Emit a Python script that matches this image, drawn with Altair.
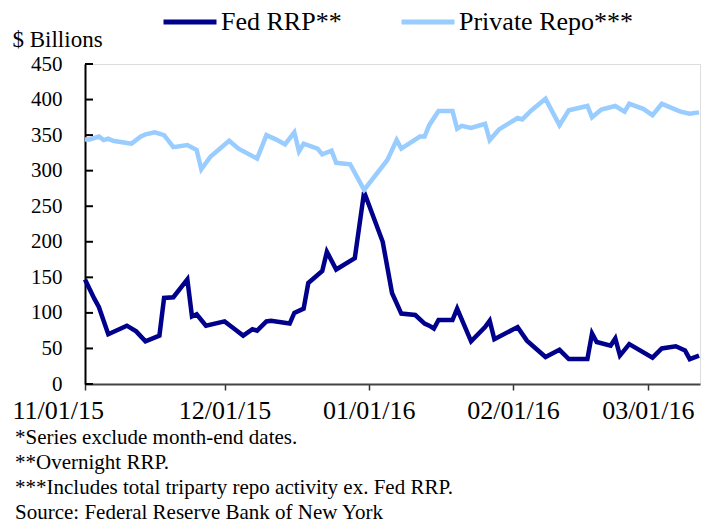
import altair as alt
import pandas as pd

series_names = ["Fed RRP**", "Private Repo***"]
series_colors = ["#00008c", "#99ccff"]

fed_dates = ["2015-11-01", "2015-11-03", "2015-11-04", "2015-11-06", "2015-11-10", "2015-11-12",
             "2015-11-14", "2015-11-17", "2015-11-18", "2015-11-20", "2015-11-23", "2015-11-24",
             "2015-11-25", "2015-11-27", "2015-12-01", "2015-12-03", "2015-12-05", "2015-12-07",
             "2015-12-08", "2015-12-10", "2015-12-11", "2015-12-15", "2015-12-16", "2015-12-18",
             "2015-12-19", "2015-12-22", "2015-12-23", "2015-12-25", "2015-12-29", "2015-12-31",
             "2016-01-04", "2016-01-06", "2016-01-08", "2016-01-11", "2016-01-13", "2016-01-14",
             "2016-01-15", "2016-01-16", "2016-01-19", "2016-01-20", "2016-01-23", "2016-01-26",
             "2016-01-27", "2016-01-28", "2016-02-02", "2016-02-04", "2016-02-08", "2016-02-11",
             "2016-02-13", "2016-02-17", "2016-02-18", "2016-02-19", "2016-02-22", "2016-02-23",
             "2016-02-24", "2016-02-26", "2016-03-02", "2016-03-04", "2016-03-07", "2016-03-09",
             "2016-03-10", "2016-03-12"]
fed_values = [147, 120, 108, 70, 82, 74,
              60, 68, 121, 122, 147, 95,
              98, 82, 88, 78, 68, 77,
              75, 88, 89, 85, 100, 106,
              142, 159, 186, 161, 177, 270,
              200, 128, 99, 97, 85, 82,
              78, 90, 90, 106, 60, 80,
              89, 63, 80, 61, 38, 48,
              35, 35, 71, 59, 54, 64,
              40, 56, 37, 50, 53, 47,
              35, 40]

private_dates = ["2015-11-01", "2015-11-02", "2015-11-04", "2015-11-05", "2015-11-06", "2015-11-07",
                 "2015-11-09", "2015-11-11", "2015-11-13", "2015-11-14", "2015-11-16", "2015-11-18",
                 "2015-11-20", "2015-11-23", "2015-11-25", "2015-11-26", "2015-11-28", "2015-12-02",
                 "2015-12-04", "2015-12-08", "2015-12-10", "2015-12-12", "2015-12-14", "2015-12-16",
                 "2015-12-17", "2015-12-18", "2015-12-21", "2015-12-22", "2015-12-24", "2015-12-25",
                 "2015-12-28", "2015-12-31", "2016-01-05", "2016-01-07", "2016-01-08", "2016-01-12",
                 "2016-01-13", "2016-01-14", "2016-01-16", "2016-01-19", "2016-01-20", "2016-01-21",
                 "2016-01-23", "2016-01-26", "2016-01-27", "2016-01-29", "2016-02-02", "2016-02-03",
                 "2016-02-05", "2016-02-08", "2016-02-11", "2016-02-13", "2016-02-17", "2016-02-18",
                 "2016-02-20", "2016-02-23", "2016-02-25", "2016-02-26", "2016-02-29", "2016-03-02",
                 "2016-03-04", "2016-03-08", "2016-03-10", "2016-03-12"]
private_values = [344, 344, 348, 343, 345, 342,
                  340, 338, 348, 351, 354, 350,
                  333, 336, 329, 302, 320, 342,
                  331, 317, 350, 344, 337, 354,
                  327, 338, 331, 323, 328, 311,
                  309, 273, 315, 343, 331, 348,
                  348, 364, 384, 384, 359, 363,
                  360, 366, 343, 358, 374, 372,
                  385, 401, 364, 385, 391, 375,
                  386, 391, 383, 394, 387, 378,
                  394, 383, 380, 382]

y_ticks = [0, 50, 100, 150, 200, 250, 300, 350, 400, 450]
x_ticks = ["2015-11-01", "2015-12-01", "2016-01-01", "2016-02-01", "2016-03-01"]
y_title = "$ Billions"
footnotes = ["*Series exclude month-end dates.",
             "**Overnight RRP.",
             "***Includes total triparty repo activity ex. Fed RRP.",
             "Source: Federal Reserve Bank of New York"]

FONT = "Liberation Serif"

df = pd.concat([
    pd.DataFrame({"date": pd.to_datetime(fed_dates), "value": fed_values, "series": series_names[0]}),
    pd.DataFrame({"date": pd.to_datetime(private_dates), "value": private_values, "series": series_names[1]}),
])
ticks_df = pd.DataFrame({"v": y_ticks})

def dt(s):
    t = pd.Timestamp(s)
    return alt.DateTime(year=t.year, month=t.month, date=t.day, hours=t.hour)

x_scale = alt.Scale(domain=[dt("2015-11-01"), alt.DateTime(year=2016, month=3, date=12, hours=5)])
y_scale = alt.Scale(domain=[0, 450], nice=False)

y_axis = alt.Axis(values=y_ticks, title=y_title, titleAngle=0, titleX=-73, titleY=-25,
                  titleAlign="left", titleBaseline="middle", titleFont=FONT,
                  titleFontSize=23, titleFontWeight="normal", titleColor="black",
                  grid=False, ticks=False, domainColor="black", domainWidth=2,
                  labelPadding=23, labelOverlap=False, labelBound=False, labelFont=FONT,
                  labelFontSize=21, labelColor="black")

lines = alt.Chart(df).mark_line(strokeWidth=4.5, strokeJoin="miter").encode(
    x=alt.X("date:T", scale=x_scale,
            axis=alt.Axis(values=[dt(s) for s in x_ticks], format="%m/%d/%y", title=None,
                          grid=False, tickSize=6, tickColor="#333333", tickWidth=1.5,
                          domainColor="#444444", domainWidth=2, labelPadding=7,
                          labelFlush=True, labelFlushOffset=73, labelOverlap=False,
                          labelFont=FONT, labelFontSize=26, labelColor="black")),
    y=alt.Y("value:Q", scale=y_scale, axis=y_axis),
    color=alt.Color("series:N", scale=alt.Scale(domain=series_names, range=series_colors),
                    sort=series_names,
                    legend=alt.Legend(title=None, orient="none", direction="horizontal",
                                      legendX=76, legendY=-71, symbolType="stroke",
                                      symbolSize=2809, symbolStrokeWidth=5, labelFont=FONT,
                                      labelFontSize=26, labelColor="black", labelOffset=2,
                                      labelLimit=400, columnPadding=49)),
    order=alt.Order("series:N", sort="descending"),
)

inner_ticks = alt.Chart(ticks_df).mark_rule(color="black", strokeWidth=2).encode(
    y=alt.Y("v:Q", scale=y_scale, axis=y_axis),
    x=alt.value(0),
    x2=alt.value(8),
)

chart = alt.layer(lines, inner_ticks).properties(
    width=615, height=320,
    autosize=alt.AutoSizeParams(type="none"),
    padding={"left": 77, "top": 56, "right": 2, "bottom": 139},
    title=alt.TitleParams(text=footnotes, orient="bottom", anchor="start", frame="group",
                          dx=-70, offset=4, font=FONT, fontSize=21, fontWeight="normal",
                          color="black", lineHeight=25, align="left"),
).configure_view(stroke=None).configure(background="white")

chart.save("out.html", embed_options={"renderer": "svg", "actions": False})
